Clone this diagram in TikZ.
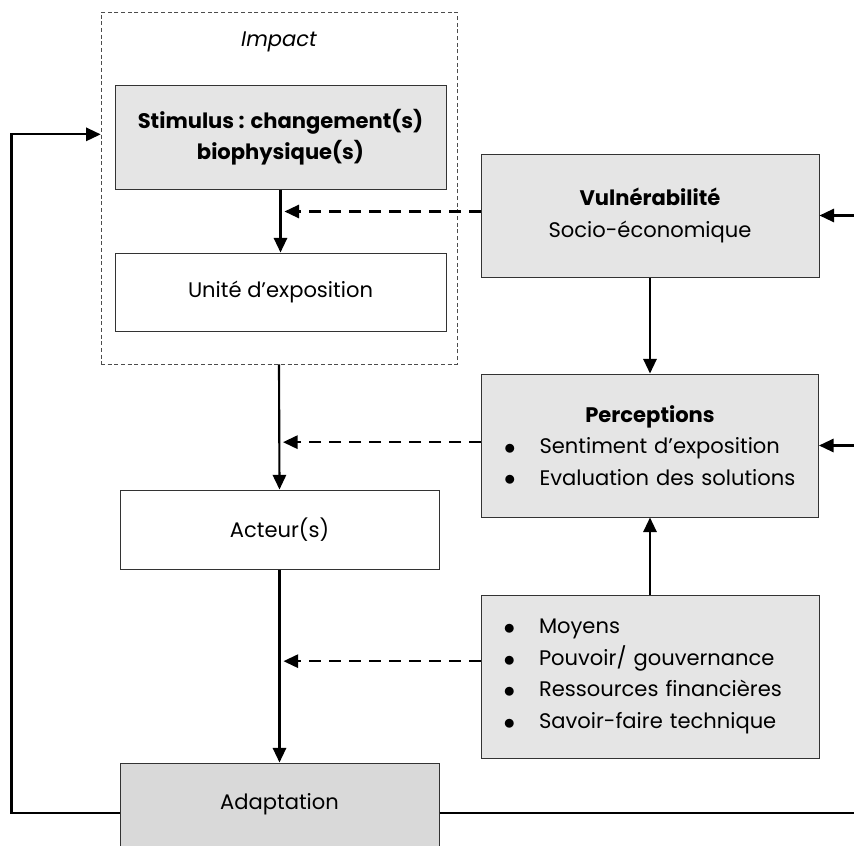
\documentclass[tikz,border=0pt]{standalone}
\usepackage{fontspec}
\setmainfont{Poppins}
\usetikzlibrary{arrows.meta, positioning}
\newcommand{\itm}[1]{\mbox{\makebox[25.5pt][l]{\hspace{-1pt}\raisebox{-0.6pt}{\fontsize{18}{0}\selectfont$\bullet$}}#1}}

\begin{document}
\begin{tikzpicture}[
  x=0.75pt, y=-0.75pt,
  every node/.style={
    rectangle,
    inner sep=2pt,
    text centered,
    align=center,
    font=\fontsize{15.8}{23.6}\selectfont
  },
  box/.style={draw=black!80, line width=0.75pt, fill=white},
  greybox/.style={box, fill=gray!20},
  darkbox/.style={box, fill=gray!30},
  >={Triangle[length=11pt,width=10pt]}, %filled triangle tips
  mainline/.style={draw, line width=1.6pt, black},
  dashline/.style={draw, line width=1.6pt, black, dash pattern=on 9pt off 6pt, shorten >=3pt},
  ]
\useasboundingbox (0,0) rectangle (854,846);
\coordinate (edge) at (854,0);
% left column
\node[draw=black!70, densely dashed, line width=0.5pt,
      minimum width=267pt, minimum height=264pt] (impact) at (279,188) {};
\node (impactlabel) at (279,42) {\itshape Impact};
\node[greybox, minimum width=248.25pt, minimum height=78pt] (stim) at (280.5,137)
  {\bfseries Stimulus : changement(s)\\ \bfseries biophysique(s)};
\node[box, minimum width=248.25pt, minimum height=58.5pt, below=47.25pt of stim] (unite) {Unité d’exposition};
\node[box, minimum width=239.25pt, minimum height=59.25pt] (acteur) at (279.5,529.5) {Acteur(s)};
\node[darkbox, minimum width=239.25pt, minimum height=75pt, text height=9pt, text depth=15pt,
      below=144.75pt of acteur] (adapt) {Adaptation};
% right column
\node[greybox, minimum width=253.5pt, minimum height=92.25pt] (vuln) at (650,215.5)
  {\textbf{Vulnérabilité}\\ Socio-économique};
\node[greybox, minimum width=252.75pt, minimum height=107.25pt, inner xsep=18pt,
      text width=216.75pt, align=left, below=72pt of vuln] (perc)
  {\makebox[216.75pt]{\textbf{Perceptions}}\\
   \itm{Sentiment d’exposition}\\
   \itm{Evaluation des solutions}};
\node[greybox, minimum width=253.5pt, minimum height=122.25pt, inner xsep=18pt,
      text width=217.5pt, align=left, below=57.75pt of perc] (moyens)
  {\itm{Moyens}\\
   \itm{Pouvoir/ gouvernance}\\
   \itm{Ressources financières}\\
   \itm{Savoir-faire technique}};

\path[mainline] (stim) edge[->] (unite)
                (impact.south) edge[->] (acteur.north)
                (acteur) edge[->] (adapt)
                (vuln) edge[->] (perc)
                (moyens) edge[->] (perc)
                (vuln.east -| edge) edge[->] (vuln.east)
                (perc.east -| edge) edge[->] (perc.east);
\path[dashline] ([yshift=3pt]vuln.west) edge[->] ([yshift=3pt]vuln.west -| stim.south)
                ([yshift=2.5pt]perc.west) edge[->] ([yshift=2.5pt]perc.west -| impact.south)
                ([yshift=11.5pt]moyens.west) edge[->] ([yshift=11.5pt]moyens.west -| acteur.south);
% feedback
\draw[mainline,->] (adapt.west) -- ++(-108,0) |- ([yshift=2pt]impact.west |- stim.center);
\draw[mainline] (adapt.east) -- (adapt.east -| edge);
\end{tikzpicture}
\end{document}
